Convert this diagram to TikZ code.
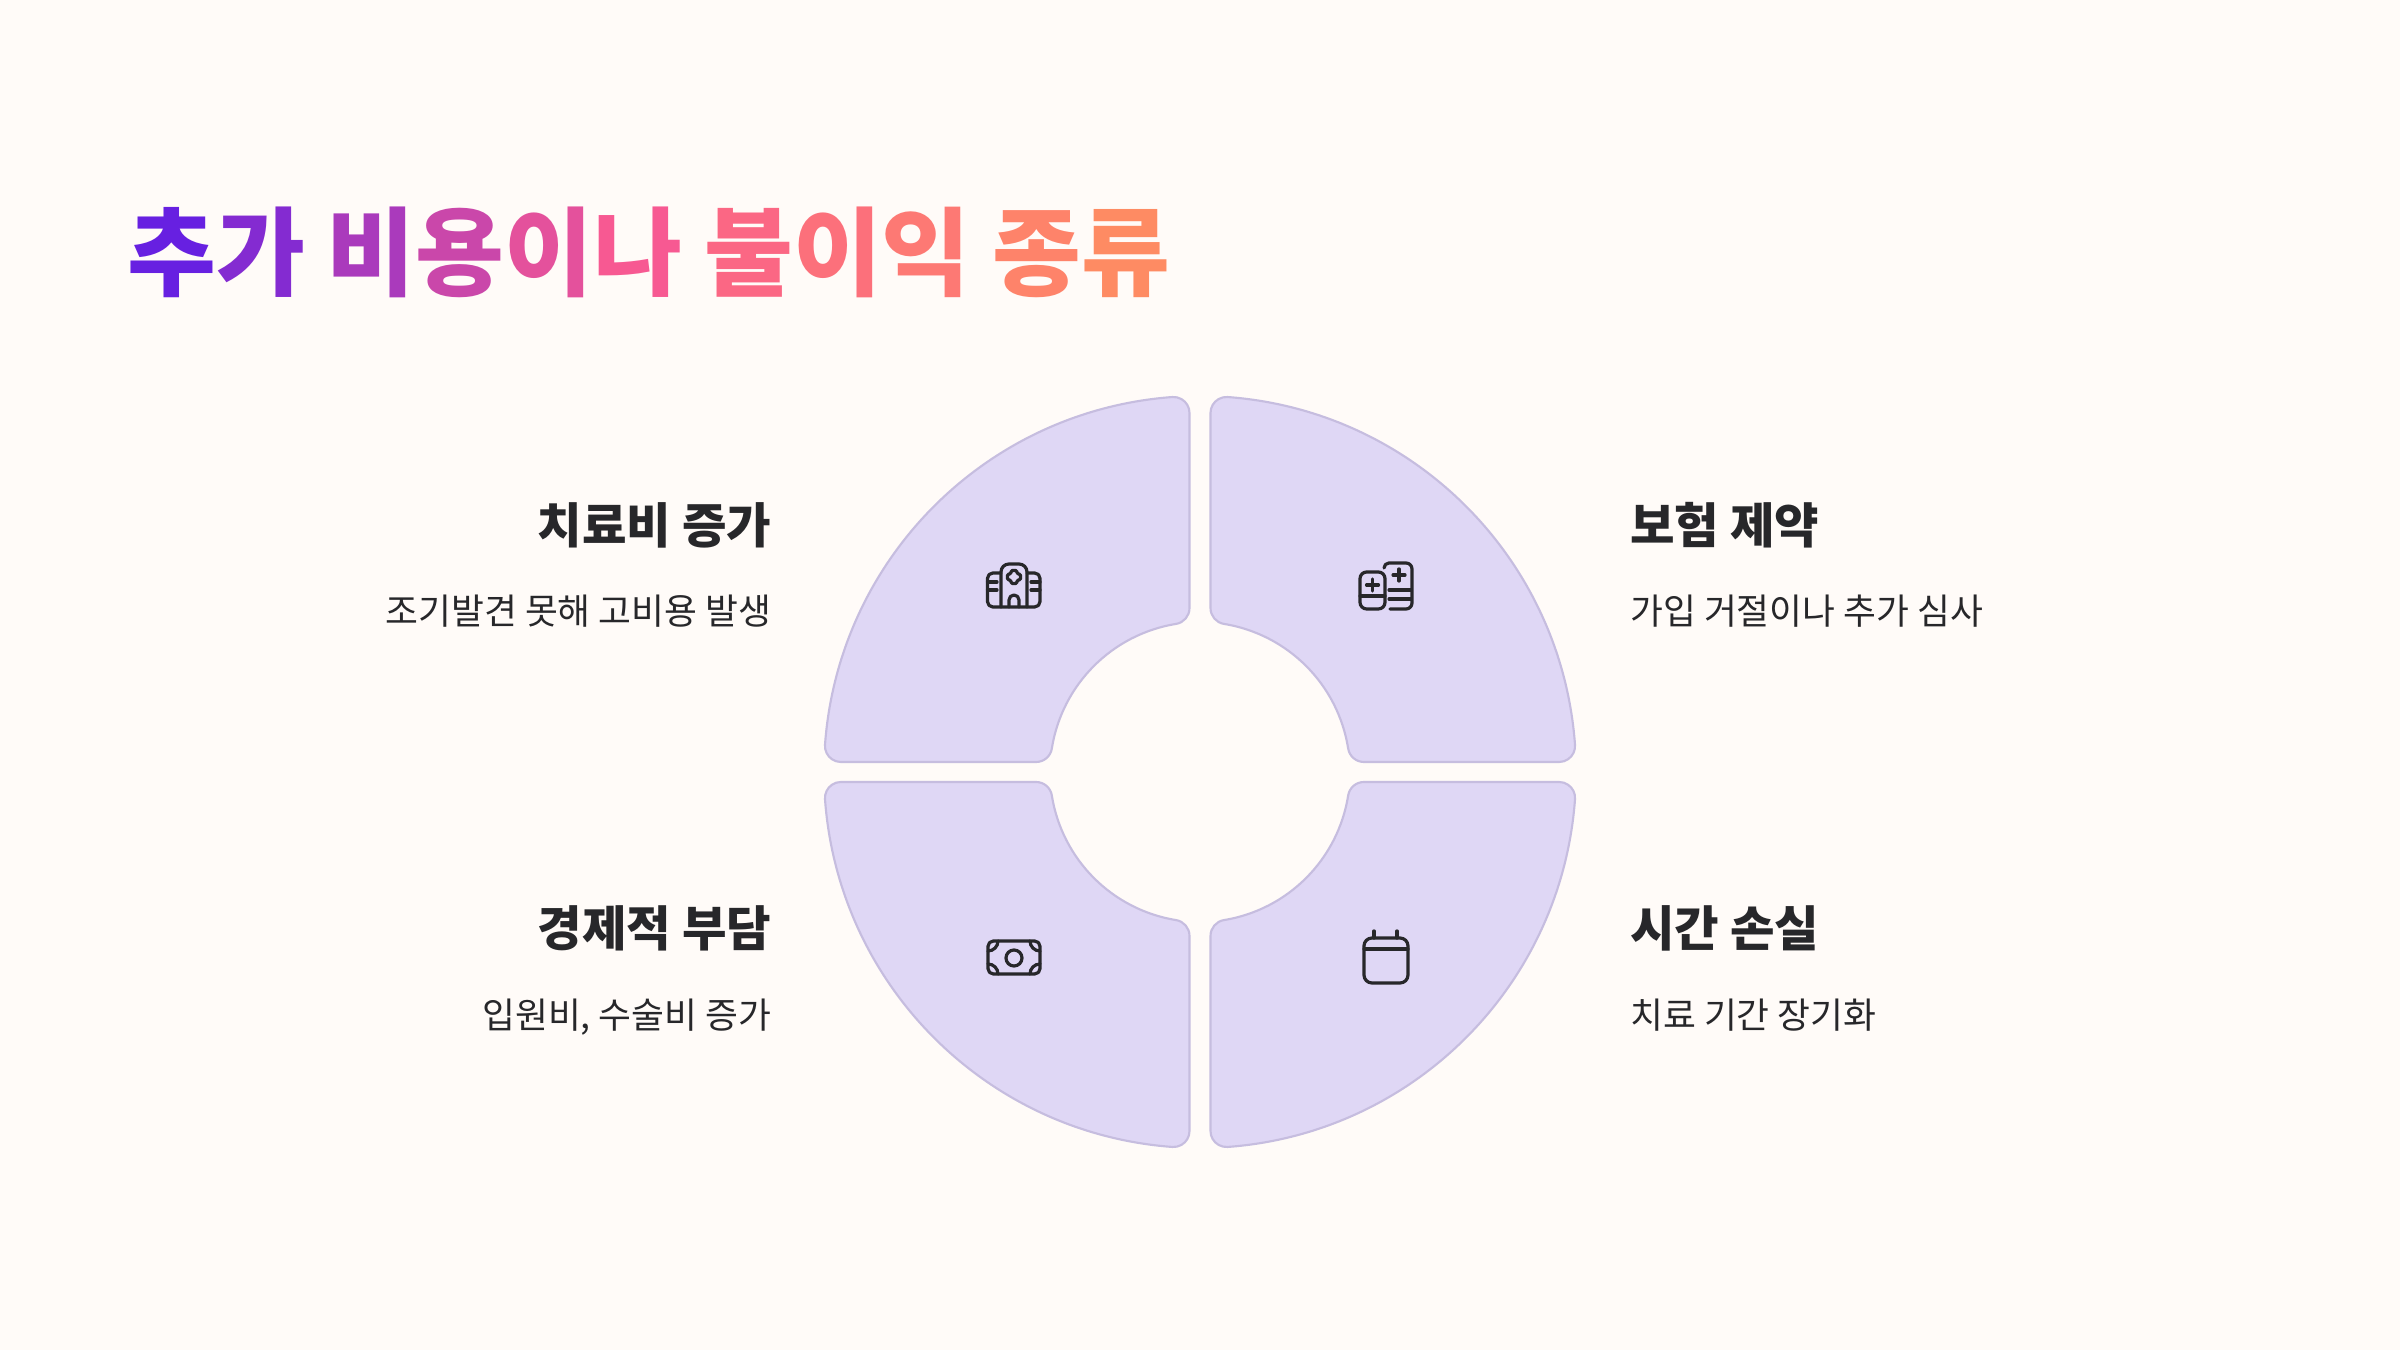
\documentclass[tikz,border=0pt]{standalone}
\usepackage{fontspec}
\setmainfont{Noto Sans CJK KR}
\definecolor{bgc}{HTML}{FFFBF8}
\definecolor{secfill}{HTML}{DFD7F5}
\definecolor{secline}{HTML}{C6BDDF}
\definecolor{inkc}{HTML}{27272A}
\definecolor{gA}{HTML}{5A1BE8}
\definecolor{gB}{HTML}{FA5A90}
\definecolor{gC}{HTML}{FF8F5F}
\tikzset{
  sector/.style={fill=secfill,draw=secline,line width=1.6pt,line join=round},
  icon/.style={draw=inkc,line width=2.4pt,line cap=round,line join=round},
  titlel/.style={font=\fontsize{72.4}{80}\selectfont\bfseries,inner sep=0pt},
  headl/.style={font=\fontsize{36.3}{40}\selectfont\bfseries,text=inkc,inner sep=0pt},
  subl/.style={font=\fontsize{26.8}{32}\selectfont,text=inkc,inner sep=0pt},
}
\newcommand{\quadrant}[1]{%
  \path[sector,shift={(1200,578)},#1]
    (94.21:376) arc[start angle=94.21,end angle=175.86,radius=376]
    arc[start angle=175.86,end angle=270,radius=16]
    -- (-163.95,10)
    arc[start angle=270,end angle=350.99,radius=16]
    arc[start angle=170.99,end angle=99.19,radius=150]
    arc[start angle=279.19,end angle=360,radius=16]
    -- (-10.5,359.02)
    arc[start angle=0,end angle=94.21,radius=16] -- cycle;
}
\newcommand{\gl}[2]{\textcolor{#1}{#2}}
\begin{document}
\begin{tikzpicture}[x=0.75pt,y=0.75pt]
\useasboundingbox (0,0) rectangle (2400,1350);
\fill[bgc] (0,0) rectangle (2400,1350);
% title
\node[titlel,anchor=base west] (title) at (127,1061) {\gl{gB!8!gA}{추}\gl{gB!26!gA}{가} \gl{gB!50!gA}{비}\gl{gB!70!gA}{용}\gl{gB!86!gA}{이}\gl{gB!98!gA}{나} \gl{gC!25!gB}{불}\gl{gC!42!gB}{이}\gl{gC!58!gB}{익} \gl{gC!78!gB}{종}\gl{gC!92!gB}{류}};
% sectors
\quadrant{xscale=1,yscale=1}
\quadrant{xscale=-1,yscale=1}
\quadrant{xscale=1,yscale=-1}
\quadrant{xscale=-1,yscale=-1}
% labels
\node[headl,anchor=base east] (h1) at (771.5,806) {치료비 증가};
\node[subl,anchor=base east] (s1) at (771.5,725.5) {조기발견 못해 고비용 발생};
\node[headl,anchor=base west] (h2) at (1630,806) {보험 제약};
\node[subl,anchor=base west] (s2) at (1630,725.5) {가입 거절이나 추가 심사};
\node[headl,anchor=base east] (h3) at (771.5,403) {경제적 부담};
\node[subl,anchor=base east] (s3) at (771.5,321.5) {입원비, 수술비 증가};
\node[headl,anchor=base west] (h4) at (1630,403) {시간 손실};
\node[subl,anchor=base west] (s4) at (1630,321.5) {치료 기간 장기화};
% hospital icon
\draw[icon,rounded corners=4] (1001,777) -- (987.5,777) -- (987.5,743) -- (1040,743) -- (1040,777) -- (1027,777);
\draw[icon,rounded corners=6] (1001,743) -- (1001,786) -- (1027,786) -- (1027,743);
\draw[icon] (987.5,768) -- (997,768) (987.5,760) -- (997,760) (1031,768) -- (1040,768) (1031,760) -- (1040,760);
\draw[icon,rounded corners=1] (1011,779.5) -- (1017,779.5) -- (1017,776) -- (1020.5,776) -- (1020.5,770) -- (1017,770) -- (1017,766.5) -- (1011,766.5) -- (1011,770) -- (1007.5,770) -- (1007.5,776) -- (1011,776) -- cycle;
\draw[icon] (1009,743) -- (1009,750) arc[start angle=180,end angle=0,radius=5] -- (1019,743);
% insurance icon
\draw[icon,rounded corners=5] (1360,741) rectangle (1385,778);
\draw[icon] (1360,754) -- (1385,754) (1372.5,759) -- (1372.5,771) (1366.5,765) -- (1378.5,765);
\draw[icon] (1384,782) arc[start angle=180,end angle=90,radius=5] -- (1406,787) arc[start angle=90,end angle=0,radius=6] -- (1412,747) arc[start angle=0,end angle=-90,radius=6] -- (1390,741);
\draw[icon] (1389,760) -- (1411,760) (1389,751) -- (1411,751) (1399,769) -- (1399,781) (1393,775) -- (1405,775);
% money icon
\draw[icon,rounded corners=4] (988,376) rectangle (1040,409);
\draw[icon] (1014,392) circle[radius=8];
\draw[icon] (988,399) arc[start angle=-90,end angle=0,radius=10]
  (1030,409) arc[start angle=180,end angle=270,radius=10]
  (988,386) arc[start angle=90,end angle=0,radius=10]
  (1030,376) arc[start angle=180,end angle=90,radius=10];
% calendar icon
\draw[icon,rounded corners=6] (1364,367) rectangle (1408,412);
\draw[icon] (1364,401) -- (1408,401) (1374,412) -- (1374,419) (1397,412) -- (1397,419);
\end{tikzpicture}
\end{document}
